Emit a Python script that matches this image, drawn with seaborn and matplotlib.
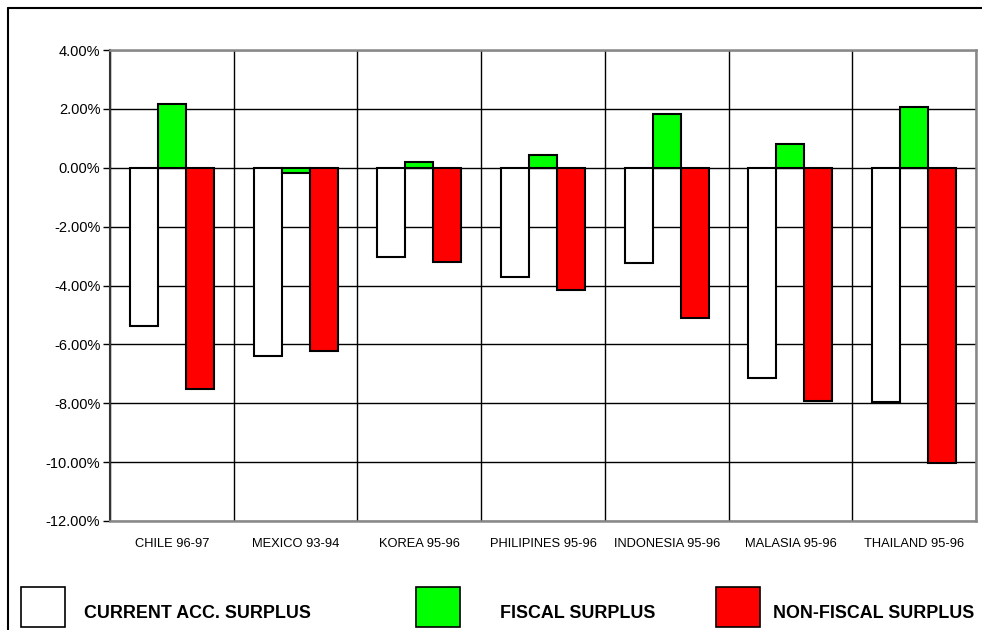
import numpy as np
import pandas as pd
import matplotlib
matplotlib.use("Agg")
import matplotlib.pyplot as plt
import seaborn as sns
from matplotlib.patches import Rectangle
from matplotlib.lines import Line2D
from matplotlib.ticker import FuncFormatter, FixedLocator

countries = ["CHILE 96-97", "MEXICO 93-94", "KOREA 95-96", "PHILIPINES 95-96",
             "INDONESIA 95-96", "MALASIA 95-96", "THAILAND 95-96"]
series_names = ["CURRENT ACC. SURPLUS", "FISCAL SURPLUS", "NON-FISCAL SURPLUS"]
current_acc = [-5.38, -6.40, -3.02, -3.71, -3.25, -7.13, -7.95]
fiscal = [2.15, -0.17, 0.19, 0.44, 1.83, 0.80, 2.06]
non_fiscal = [-7.53, -6.23, -3.20, -4.14, -5.10, -7.93, -10.02]
colors = ["#FFFFFF", "#00FF00", "#FF0000"]
y_ticks = [4, 2, 0, -2, -4, -6, -8, -10, -12]

rows = []
for name, vals in zip(series_names, [current_acc, fiscal, non_fiscal]):
    for c, v in zip(countries, vals):
        rows.append({"country": c, "series": name, "value": v})
df = pd.DataFrame(rows)

sns.set_theme(style="white")
plt.rcParams["font.family"] = ["Liberation Sans", "DejaVu Sans"]

fig = plt.figure(figsize=(9.82, 6.3), dpi=100)
ax = fig.add_axes([110 / 982, (630 - 521) / 630, (976 - 110) / 982, (521 - 50) / 630])

sns.barplot(data=df, x="country", y="value", hue="series", order=countries,
            hue_order=series_names, palette=colors, edgecolor="black",
            linewidth=1.5, width=0.68, gap=0, saturation=1, ax=ax,
            legend=False, zorder=3)

ax.set_xlim(-0.5, len(countries) - 0.5)
ax.set_ylim(-12, 4)
ax.yaxis.set_major_locator(FixedLocator(y_ticks))
ax.yaxis.set_major_formatter(FuncFormatter(lambda v, p: f"{v:.2f}%"))
ax.set_xlabel("")
ax.set_ylabel("")

ax.set_xticks(np.arange(-0.5, len(countries), 1.0), minor=True)
ax.grid(True, axis="y", which="major", color="black", linewidth=1.0, zorder=0)
ax.grid(True, axis="x", which="minor", color="black", linewidth=1.0, zorder=0)
ax.grid(False, axis="x", which="major")
ax.set_axisbelow(True)

ax.tick_params(axis="y", which="major", left=True, length=5, width=1, color="black",
               labelsize=10.5, pad=2, labelcolor="black", direction="out")
ax.tick_params(axis="x", which="both", bottom=False, length=0, labelsize=9.3, pad=12,
               labelcolor="black")

for side in ["top", "right", "bottom"]:
    ax.spines[side].set_color("#888888")
    ax.spines[side].set_linewidth(1.8)
    ax.spines[side].set_visible(True)
ax.spines["left"].set_color("#333333")
ax.spines["left"].set_linewidth(1.5)
ax.spines["left"].set_visible(True)

# outer border
fig.add_artist(Line2D([8 / 982, 1.0], [1 - 8 / 630, 1 - 8 / 630], color="black",
                      linewidth=1.5, transform=fig.transFigure))
fig.add_artist(Line2D([8 / 982, 8 / 982], [0, 1 - 8 / 630], color="black",
                      linewidth=1.5, transform=fig.transFigure))

# legend
box_x = [21, 416, 716]
text_x = [84, 500, 773]
for bx, tx, name, col in zip(box_x, text_x, series_names, colors):
    fig.add_artist(Rectangle((bx / 982, (630 - 627) / 630), 44 / 982, 40 / 630,
                             facecolor=col, edgecolor="black", linewidth=1.2,
                             transform=fig.transFigure))
    fig.text(tx / 982, (630 - 613) / 630, name, fontsize=12.9, fontweight="bold",
             ha="left", va="center", color="black")

fig.savefig("out.png", dpi=100)
